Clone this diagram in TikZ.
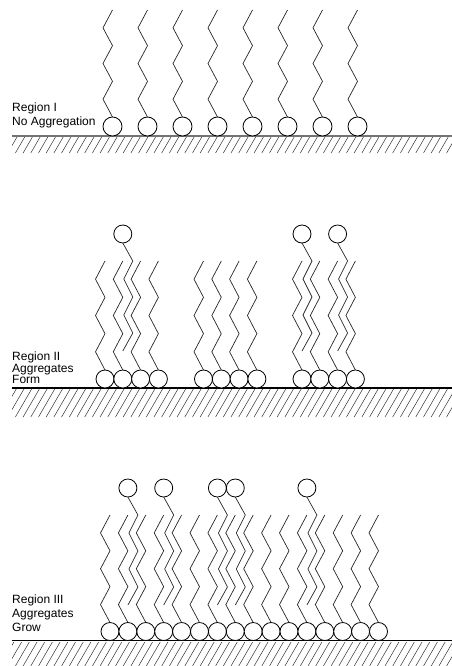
\documentclass[tikz,border=0pt]{standalone}
\usepackage{fontspec}
\setmainfont{Liberation Sans}
\begin{document}
\begin{tikzpicture}[x=1pt,y=-1pt,
  headgroup/.style={draw=black, line width=0.8pt, fill=white},
  tail/.style={draw=black!85, line width=0.7pt, line join=miter},
  surface/.style={draw=black, line width=1.1pt},
  hatchline/.style={draw=black!80, line width=0.5pt},
  regionlabel/.style={anchor=base west, inner sep=0pt, font=\fontsize{12}{12}\selectfont}]

\useasboundingbox (0,0) rectangle (452,666);

% lipid standing on the surface: head (x, y) radius r, tail rising to height ytop
\newcommand{\standinglipid}[4]{%
  \pgfmathsetmacro\lipbase{#2-#3}%
  \pgfmathsetmacro\lipstep{(\lipbase-#4)/6}%
  \draw[headgroup] (#1,#2) circle[radius=#3];
  \draw[tail] (#1,\lipbase) -- ++(-9.5,-\lipstep) -- ++(9.5,-\lipstep)
     -- ++(-9.5,-\lipstep) -- ++(9.5,-\lipstep) -- ++(-9.5,-\lipstep)
     -- ++(9.5,-\lipstep);
}
% lipid turned over: head above the layer, tail hanging down from ytop
\newcommand{\invertedlipid}[2]{%
  \pgfmathsetmacro\liphead{#2-27}%
  \draw[headgroup] (#1,\liphead) circle[radius=9];
  \draw[tail] (#1,\liphead+9) -- (#1+10,#2) -- ++(-9,18) -- ++(9,18)
     -- ++(-9,18) -- ++(9,18) -- ++(-10,18);
}
% substrate: surface line and hatched body
\newcommand{\substrate}[3]{%
  \begin{scope}
    \clip (12,#1+1.5) rectangle (452,#2);
    \foreach \k in {-4,...,60}
      {\draw[hatchline] (\k*7.7,#2) -- ++({(#2-#1)*0.58},{-(#2-#1)});}
  \end{scope}
  \draw[#3] (12,#1) -- (452,#1);
}

% ---------------- Region I ----------------
\substrate{136}{153}{surface, draw=black!55, line width=1.5pt}
\foreach \i in {0,...,7}
  {\standinglipid{112.5+35*\i}{126.5}{9.5}{10}}
\node[regionlabel] (r1a) at (12,111.5) {Region I};
\node[regionlabel] (r1b) at (12,125.5) {No Aggregation};

% ---------------- Region II ----------------
\substrate{388}{417}{surface}
\foreach \gx in {105,203.5,302}
  {\foreach \i in {0,...,3}
    {\standinglipid{\gx+17.8*\i}{379}{9}{261}}}
\invertedlipid{122.8}{261}
\invertedlipid{302}{261}
\invertedlipid{337.6}{261}
\node[regionlabel] (r2a) at (12,360.5) {Region II};
\node[regionlabel] (r2b) at (12,372) {Aggregates};
\node[regionlabel] (r2c) at (12,383.5) {Form};

% ---------------- Region III ----------------
\substrate{640.5}{666}{surface}
\foreach \i in {0,...,15}
  {\standinglipid{110+17.9*\i}{631.5}{9}{515}}
\foreach \i in {1,3,6,7,11}
  {\invertedlipid{110+17.9*\i}{515}}
\node[regionlabel] (r3a) at (12,603) {Region III};
\node[regionlabel] (r3b) at (12,617) {Aggregates};
\node[regionlabel] (r3c) at (12,631) {Grow};

\end{tikzpicture}
\end{document}
